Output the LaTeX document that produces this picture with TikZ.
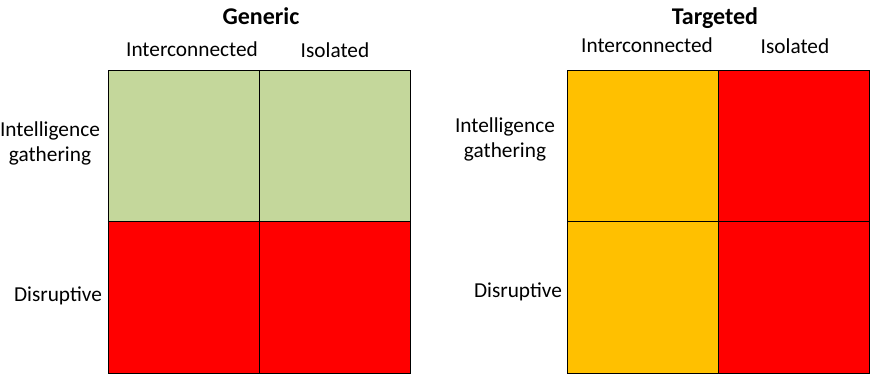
\documentclass[tikz,border=0pt]{standalone}
\usepackage{fontspec}
\setmainfont{Carlito}
\usetikzlibrary{positioning}

\definecolor{softgreen}{HTML}{C4D79B}
\definecolor{amber}{HTML}{FFC000}
\definecolor{alarmred}{HTML}{FF0000}

\begin{document}
\begin{tikzpicture}[x=1pt, y=-1pt,
    cell/.style={draw, line width=1pt, minimum width=151pt, minimum height=151.5pt,
                 inner sep=0pt, outer sep=0pt},
    lab/.style={font=\fontsize{21.3}{25}\selectfont, align=center, inner sep=0pt, anchor=base},
    ttl/.style={font=\bfseries\fontsize{24}{28}\selectfont, inner sep=0pt, anchor=base}]
    \useasboundingbox (0,0) rectangle (871,374);

    % ---------------------------------------------
    % 左: Generic
    % ---------------------------------------------
    \node[cell, fill=softgreen, anchor=north west] (g11) at (108.5, 70.5) {};
    \node[cell, fill=softgreen, right=0pt of g11] (g12) {};
    \node[cell, fill=alarmred, below=0pt of g11] (g21) {};
    \node[cell, fill=alarmred, below=0pt of g12] (g22) {};

    \node[ttl] (gtitle) at (261, 25) {Generic};
    \node[lab] (gcol1) at (192, 56.7) {Interconnected};
    \node[lab] (gcol2) at (335, 58) {Isolated};
    % 二行ラベル: base は最終行
    \node[lab] (grow1) at (50, 161.7) {Intelligence\\gathering};
    \node[lab] (grow2) at (58, 302) {Disruptive};

    % ---------------------------------------------
    % 右: Targeted
    % ---------------------------------------------
    \node[cell, fill=amber, anchor=north west] (t11) at (567.5, 70.5) {};
    \node[cell, fill=alarmred, right=0pt of t11] (t12) {};
    \node[cell, fill=amber, below=0pt of t11] (t21) {};
    \node[cell, fill=alarmred, below=0pt of t12] (t22) {};

    \node[ttl] (ttitle) at (715, 25) {Targeted};
    \node[lab] (tcol1) at (647, 52.3) {Interconnected};
    \node[lab] (tcol2) at (795, 54) {Isolated};
    \node[lab] (trow1) at (505, 157.3) {Intelligence\\gathering};
    \node[lab] (trow2) at (518, 298) {Disruptive};
\end{tikzpicture}
\end{document}
